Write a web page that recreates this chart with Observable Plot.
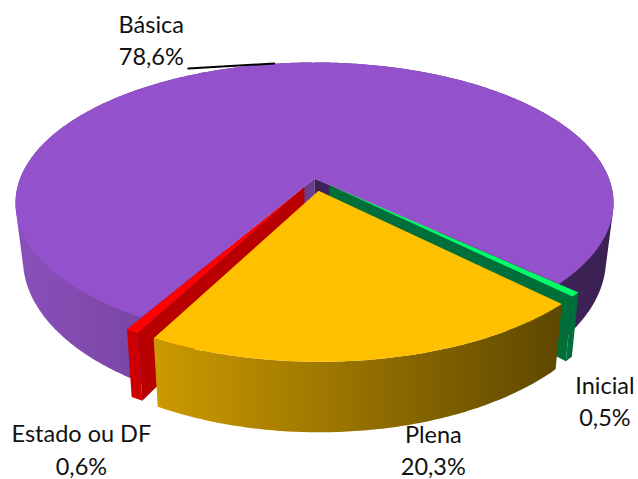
<!DOCTYPE html>
<html>
<head>
<meta charset="utf-8">
<style>html,body{margin:0;padding:0;background:#fff}svg{display:block}</style>
<script src="https://cdn.jsdelivr.net/npm/d3@7"></script>
<script src="https://cdn.jsdelivr.net/npm/@observablehq/plot@0.6"></script>
</head>
<body>
<script>
// Data
const categories = ["Básica", "Inicial", "Plena", "Estado ou DF"];
const shares = [78.6, 0.5, 20.3, 0.6];
const shareLabels = ["78,6%", "0,5%", "20,3%", "0,6%"];

// Styling per slice
const explode = [0, 0.07, 0.09, 0.07];
const topColors = ["#9351cb", "#00ff66", "#ffc000", "#ff0000"];
const wallColors = ["url(#wallPurple)", "#006f3a", "url(#wallGold)", "#cc0000"];
const cutColors = [null, "#006f3a", null, "#b80000"];
const labelOffsetX = [-126, 29.5, 59, -51];
const labelOffsetY = [-25, 105, 89, 117];

// Pie layout and a perspective camera on the disk
const W = 638, H = 479;
const startAngle = 210 * Math.PI / 180;
const pie = d3.pie().sort(null).startAngle(startAngle).endAngle(startAngle + 2 * Math.PI)(shares);
const cam = {cx: 314, cy: 178, R: 294.4, S: 136.3, k: 0.1746, f: 0.975, d0: 56, d1: 0.09};

function project(u, v, bottom) {
  const w = 1 - cam.k * v;
  const X = cam.cx + cam.R * u / w;
  const Y = cam.cy + cam.S * v / w;
  if (!bottom) return [X, Y];
  return [cam.cx + cam.f * (X - cam.cx), Y + cam.d0 + cam.d1 * (Y - cam.cy - 22)];
}
function sliceGeom(i) {
  const s = pie[i], mid = (s.startAngle + s.endAngle) / 2;
  const ox = explode[i] * Math.sin(mid), oy = -explode[i] * Math.cos(mid);
  const pt = (a, r, b) => project(ox + r * Math.sin(a), oy - r * Math.cos(a), b);
  const n = Math.max(2, Math.ceil((s.endAngle - s.startAngle) * 90));
  const angs = d3.range(n + 1).map(j => s.startAngle + (s.endAngle - s.startAngle) * j / n);
  const back = 2 * Math.PI;
  const hullOf = list => d3.polygonHull(list.flatMap(a => [pt(a, 1), pt(a, 1, true)]));
  return {
    top: [pt(0, 0), ...angs.map(a => pt(a, 1))],
    wall: [...angs.map(a => pt(a, 1)), ...angs.slice().reverse().map(a => pt(a, 1, true))],
    // a wall that passes behind the disk is drawn as the hull of each side, which keeps its tangents
    wallLeft: hullOf(angs.filter(a => a <= back)),
    wallRight: hullOf(angs.filter(a => a >= back)),
    cutStart: [pt(0, 0), pt(s.startAngle, 1), pt(s.startAngle, 1, true), pt(0, 0, true)],
    cutEnd: [pt(0, 0), pt(s.endAngle, 1), pt(s.endAngle, 1, true), pt(0, 0, true)],
    mid: pt(mid, 1)
  };
}
const geo = categories.map((_, i) => sliceGeom(i));
const face = (pts, fill) => Plot.line(pts, {x: d => d[0], y: d => d[1], fill, stroke: "none", curve: "linear"});

const defs = () => {
  const d = d3.create("svg:defs");
  const grad = (id, x1, x2, stops) => {
    const g = d.append("linearGradient").attr("id", id).attr("gradientUnits", "userSpaceOnUse")
      .attr("x1", x1).attr("x2", x2).attr("y1", 0).attr("y2", 0);
    stops.forEach(([o, c]) => g.append("stop").attr("offset", o).attr("stop-color", c));
  };
  grad("wallPurple", 15, 612, [[0, "#8a50bb"], [0.2, "#7a47a5"], [0.9, "#3f2358"], [1, "#3b2153"]]);
  grad("wallGold", 155, 557, [[0, "#cc9a00"], [1, "#5f4800"]]);
  return d.node();
};

const labels = categories.map((c, i) => ({
  text: c + "\n" + shareLabels[i],
  x: geo[i].mid[0] + labelOffsetX[i],
  y: geo[i].mid[1] + labelOffsetY[i]
}));
const leader = [[geo[0].mid[0] - 3, geo[0].mid[1]], [geo[0].mid[0] - 89, geo[0].mid[1] + 5]];

const chart = Plot.plot({
  width: W, height: H, margin: 0,
  x: {domain: [0, W], range: [0, W], axis: null},
  y: {domain: [0, H], range: [0, H], axis: null},
  marks: [
    defs,
    face(geo[0].wallLeft, wallColors[0]),
    face(geo[0].wallRight, wallColors[0]),
    face(geo[0].cutStart, "#6b3d90"),
    face(geo[0].cutEnd, "#3f2358"),
    face(geo[0].top, topColors[0]),
    face(geo[3].wall, wallColors[3]),
    face(geo[3].cutStart, cutColors[3]),
    face(geo[3].top, topColors[3]),
    face(geo[1].wall, wallColors[1]),
    face(geo[1].cutEnd, cutColors[1]),
    face(geo[1].top, topColors[1]),
    face(geo[2].wall, wallColors[2]),
    face(geo[2].top, topColors[2]),
    Plot.line(leader, {x: d => d[0], y: d => d[1], stroke: "#000", strokeWidth: 2}),
    Plot.text(labels, {x: "x", y: "y", text: "text", fontFamily: "Lato", fontSize: 23.5, lineHeight: 1.37, fill: "#111", textAnchor: "middle"})
  ]
});
document.body.appendChild(chart);
</script>
</body>
</html>
